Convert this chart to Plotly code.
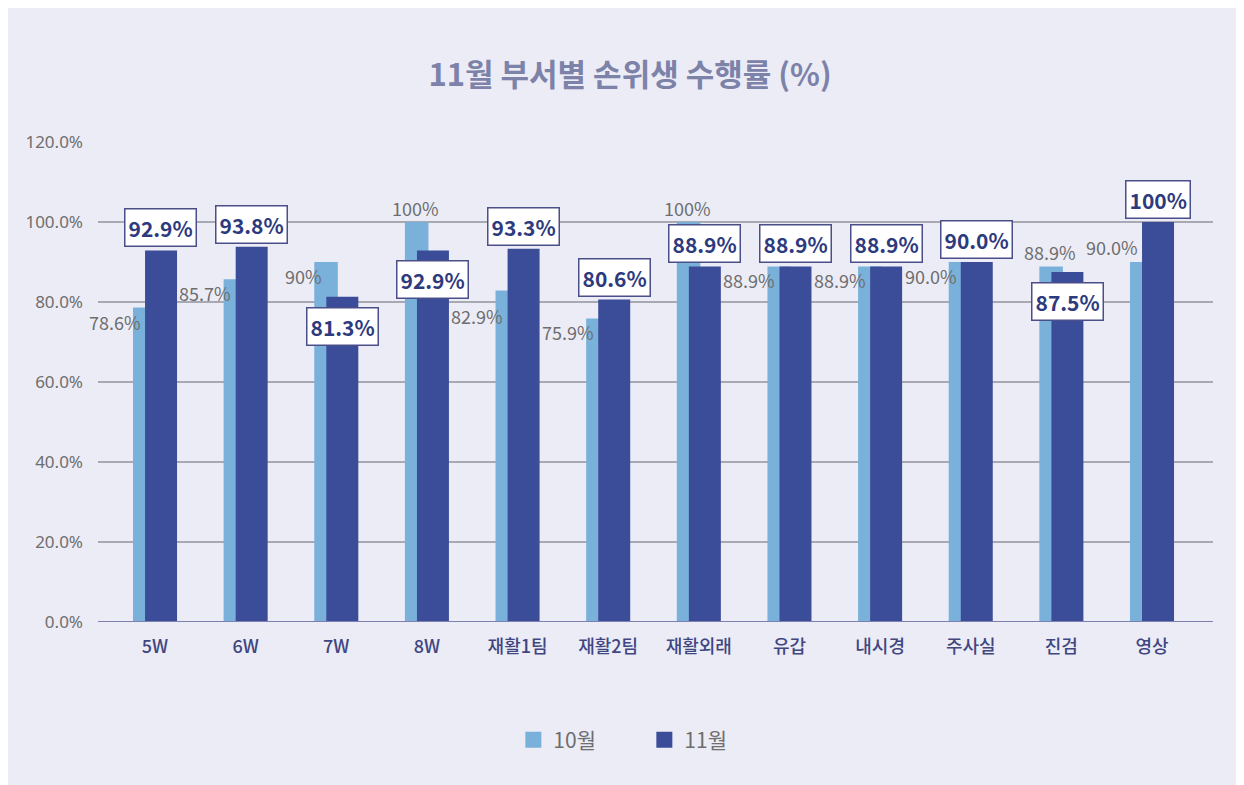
import plotly.graph_objects as go

categories = ["5W", "6W", "7W", "8W", "재활1팀", "재활2팀", "재활외래", "유갑", "내시경", "주사실", "진검", "영상"]
oct_values = [78.6, 85.7, 90.0, 100.0, 82.9, 75.9, 100.0, 88.9, 88.9, 90.0, 88.9, 90.0]
nov_values = [92.9, 93.8, 81.3, 92.9, 93.3, 80.6, 88.9, 88.9, 88.9, 90.0, 87.5, 100.0]
oct_labels = ["78.6%", "85.7%", "90%", "100%", "82.9%", "75.9%", "100%", "88.9%", "88.9%", "90.0%", "88.9%", "90.0%"]
nov_labels = ["92.9%", "93.8%", "81.3%", "92.9%", "93.3%", "80.6%", "88.9%", "88.9%", "88.9%", "90.0%", "87.5%", "100%"]
y_ticks = [0, 20, 40, 60, 80, 100, 120]
y_tick_labels = ["0.0%", "20.0%", "40.0%", "60.0%", "80.0%", "100.0%", "120.0%"]

# label placement modes
oct_label_mode = ["left", "left", "left", "top", "lowleft", "left", "top", "left", "left", "left", "top", "upleft"]
nov_label_mode = ["above", "above", "below", "below", "above", "above", "above", "above", "above", "above", "below", "above"]

C_OCT = "#7AB1DB"
C_NOV = "#3B4C99"
BG = "#ECECF7"
FONT = "Noto Sans CJK KR"
GREY = "#6E6E6E"

x = list(range(len(categories)))

fig = go.Figure()
fig.add_trace(go.Bar(
    x=x, y=oct_values, name="10월", marker=dict(color=C_OCT, line=dict(width=0)),
    offset=-0.243, width=0.26, hoverinfo="skip", showlegend=False,
))
fig.add_trace(go.Bar(
    x=x, y=nov_values, name="11월", marker=dict(color=C_NOV, line=dict(width=0)),
    offset=-0.11, width=0.353, hoverinfo="skip", showlegend=False,
))
# legend entries with large square swatches
fig.add_trace(go.Scatter(x=[None], y=[None], mode="markers", name="10월",
                         marker=dict(symbol="square", size=22, color=C_OCT)))
fig.add_trace(go.Scatter(x=[None], y=[None], mode="markers", name="11월",
                         marker=dict(symbol="square", size=22, color=C_NOV)))

annotations = []
shift_by_mode = {"left": -14, "lowleft": -26, "upleft": 15}
for i, (v, lab, mode) in enumerate(zip(oct_values, oct_labels, oct_label_mode)):
    f = dict(family=FONT, size=18, color=GREY)
    if mode == "top":
        annotations.append(dict(x=i - 0.13, y=v, text=lab, showarrow=False, xanchor="center", yanchor="bottom",
                                yshift=-1, font=f))
    else:
        annotations.append(dict(x=i - 0.135, y=v, text=lab, showarrow=False, xanchor="right", yanchor="middle",
                                yshift=shift_by_mode[mode], font=f))

for i, (v, lab, mode) in enumerate(zip(nov_values, nov_labels, nov_label_mode)):
    common = dict(x=i + 0.066, y=v, text="<b>" + lab + "</b>", showarrow=False, xanchor="center",
                  bgcolor="white", bordercolor="#4A4F8A", borderwidth=1.5, borderpad=3,
                  font=dict(family=FONT, size=21, color="#2E3A7E"))
    if mode == "below":
        annotations.append(dict(**common, yanchor="top", yshift=-10))
    else:
        annotations.append(dict(**common, yanchor="bottom", yshift=3))

fig.update_layout(
    width=1244, height=785,
    paper_bgcolor=BG, plot_bgcolor=BG,
    barmode="overlay",
    margin=dict(l=90, r=39, t=134, b=171),
    title=dict(text="11월 부서별 손위생 수행률 (%)", x=0.5, xanchor="center", y=0.915, yanchor="middle",
               font=dict(family=FONT, size=31, color="#7D82A8", weight=600)),
    font=dict(family=FONT),
    xaxis=dict(tickmode="array", tickvals=x, ticktext=categories, range=[-0.629, 11.673],
               showgrid=False, zeroline=False, showline=False, ticks="", ticklabelstandoff=12,
               tickfont=dict(family=FONT, size=18, color="#3F4680", weight=500)),
    yaxis=dict(range=[0, 120], tickmode="array", tickvals=y_ticks, ticktext=y_tick_labels,
               showgrid=True, gridcolor="#A9A9B4", gridwidth=1.5, zeroline=False, showline=False,
               ticks="", ticklabelstandoff=14,
               tickfont=dict(family="Noto Sans", size=17, color=GREY)),
    legend=dict(orientation="h", x=0.49, xanchor="center", y=-0.246, yanchor="middle",
                font=dict(family=FONT, size=21, color=GREY), itemwidth=30,
                traceorder="normal", entrywidthmode="pixels", entrywidth=86),
    annotations=annotations,
    shapes=[dict(type="line", xref="paper", yref="y", x0=0, x1=1, y0=0, y1=0,
                 line=dict(color="#7E80B0", width=2), layer="above")],
)

fig.write_html("out.html")
